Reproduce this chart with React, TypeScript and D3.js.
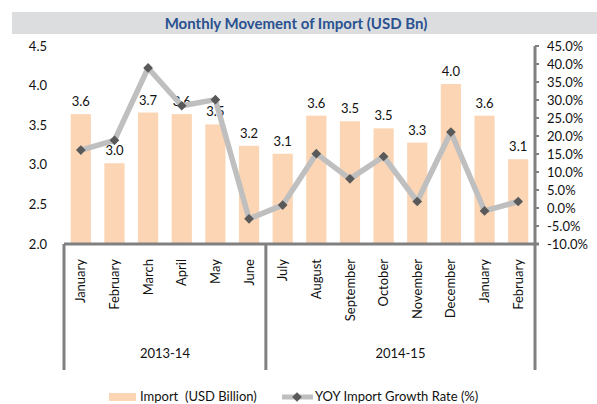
import React from "react";
import * as d3 from "d3";

const months = ["January","February","March","April","May","June","July","August","September","October","November","December","January","February"];
const fiscalYears = ["2013-14", "2014-15"];
const monthsPerYear = [6, 8];
const imports = [3.64, 3.02, 3.66, 3.64, 3.51, 3.24, 3.14, 3.62, 3.55, 3.46, 3.28, 4.02, 3.62, 3.07];
const growth = [16.1, 18.8, 38.9, 28.4, 30.1, -3.0, 0.8, 15.1, 8.1, 14.3, 1.8, 21.1, -0.8, 1.8];
const leftTicks = [2.0, 2.5, 3.0, 3.5, 4.0, 4.5];
const rightTicks = [-10, -5, 0, 5, 10, 15, 20, 25, 30, 35, 40, 45];

const FONT = "Lato, 'Open Sans', sans-serif";
const W = 597, H = 404;
const left = 64, right = 535, top = 46, bottom = 244, groupBottom = 370;
const FS = 13;
const TXT = "#111";

export default function App() {
  const x = d3.scaleBand<number>().domain(d3.range(months.length)).range([left, right]).paddingInner(0.4).paddingOuter(0.2);
  const yL = d3.scaleLinear().domain([2, 4.5]).range([bottom, top]);
  const yR = d3.scaleLinear().domain([-10, 45]).range([bottom, top]);
  const step = x.step();
  const cx = (i: number) => (x(i) as number) + x.bandwidth() / 2;
  const line = d3.line<number>().x((_, i) => cx(i)).y(d => yR(d));
  const diamond = d3.symbol().type(d3.symbolDiamond2).size(60);

  const boundaries: number[] = [0];
  monthsPerYear.forEach(n => boundaries.push(boundaries[boundaries.length - 1] + n));
  const axisColor = "#808080";

  return (
    <svg width={W} height={H} style={{ position: "absolute", left: 0, top: 0 }} fontFamily={FONT}>
      <rect x={0} y={0} width={W} height={H} fill="#fff" />
      <rect x={12} y={12} width={W - 12} height={22} fill="#DCDDDE" />
      <text x={296} y={28.5} textAnchor="middle" fontSize={15} fontWeight="bold" fill="#2A5290">Monthly Movement of Import (USD Bn)</text>

      {leftTicks.map(t => (
        <text key={t} x={47} y={yL(t)} dy="0.35em" textAnchor="end" fontSize={FS} fill={TXT}>{t.toFixed(1)}</text>
      ))}

      {imports.map((v, i) => (
        <rect key={i} x={x(i)} y={yL(v)} width={x.bandwidth()} height={yL(2) - yL(v)} fill="#FBD5B4" />
      ))}
      {imports.map((v, i) => (
        <text key={i} x={cx(i)} y={yL(v) - 8} textAnchor="middle" fontSize={FS} fill={TXT}>{v.toFixed(1)}</text>
      ))}

      <path d={line(growth) || ""} fill="none" stroke="#BFBFBF" strokeWidth={5.5} strokeLinejoin="round" />
      {growth.map((v, i) => (
        <path key={i} d={diamond() || ""} transform={`translate(${cx(i)},${yR(v)})`} fill="#595959" />
      ))}

      <line x1={left} x2={right + 4} y1={bottom} y2={bottom} stroke={axisColor} strokeWidth={3} />
      {boundaries.map((b, k) => (
        <line key={k} x1={left + b * step} x2={left + b * step} y1={k === boundaries.length - 1 ? top : bottom} y2={groupBottom} stroke={axisColor} strokeWidth={3} />
      ))}
      {rightTicks.map(t => (
        <g key={t}>
          <line x1={right} x2={right + 4} y1={yR(t)} y2={yR(t)} stroke={axisColor} strokeWidth={2} />
          <text x={547} y={yR(t)} dy="0.35em" fontSize={FS} fill={TXT}>{t.toFixed(1) + "%"}</text>
        </g>
      ))}

      {months.map((m, i) => (
        <text key={i} transform={`translate(${cx(i)},259) rotate(-90)`} dy="0.35em" textAnchor="end" fontSize={FS} fill={TXT}>{m}</text>
      ))}
      {fiscalYears.map((fy, k) => (
        <text key={fy} x={left + ((boundaries[k] + boundaries[k + 1]) / 2) * step} y={358} textAnchor="middle" fontSize={FS} fill={TXT}>{fy}</text>
      ))}

      <rect x={109} y={393} width={27} height={8} fill="#FBD5B4" />
      <text x={140} y={401} fontSize={FS} fill={TXT} style={{ whiteSpace: "pre" }}>{"Import\u00A0 (USD Billion)"}</text>
      <line x1={282} x2={313} y1={397} y2={397} stroke="#BFBFBF" strokeWidth={5} />
      <path d={diamond() || ""} transform="translate(297,397)" fill="#595959" />
      <text x={315} y={401} fontSize={FS} fill={TXT}>YOY Import Growth Rate (%)</text>
    </svg>
  );
}
